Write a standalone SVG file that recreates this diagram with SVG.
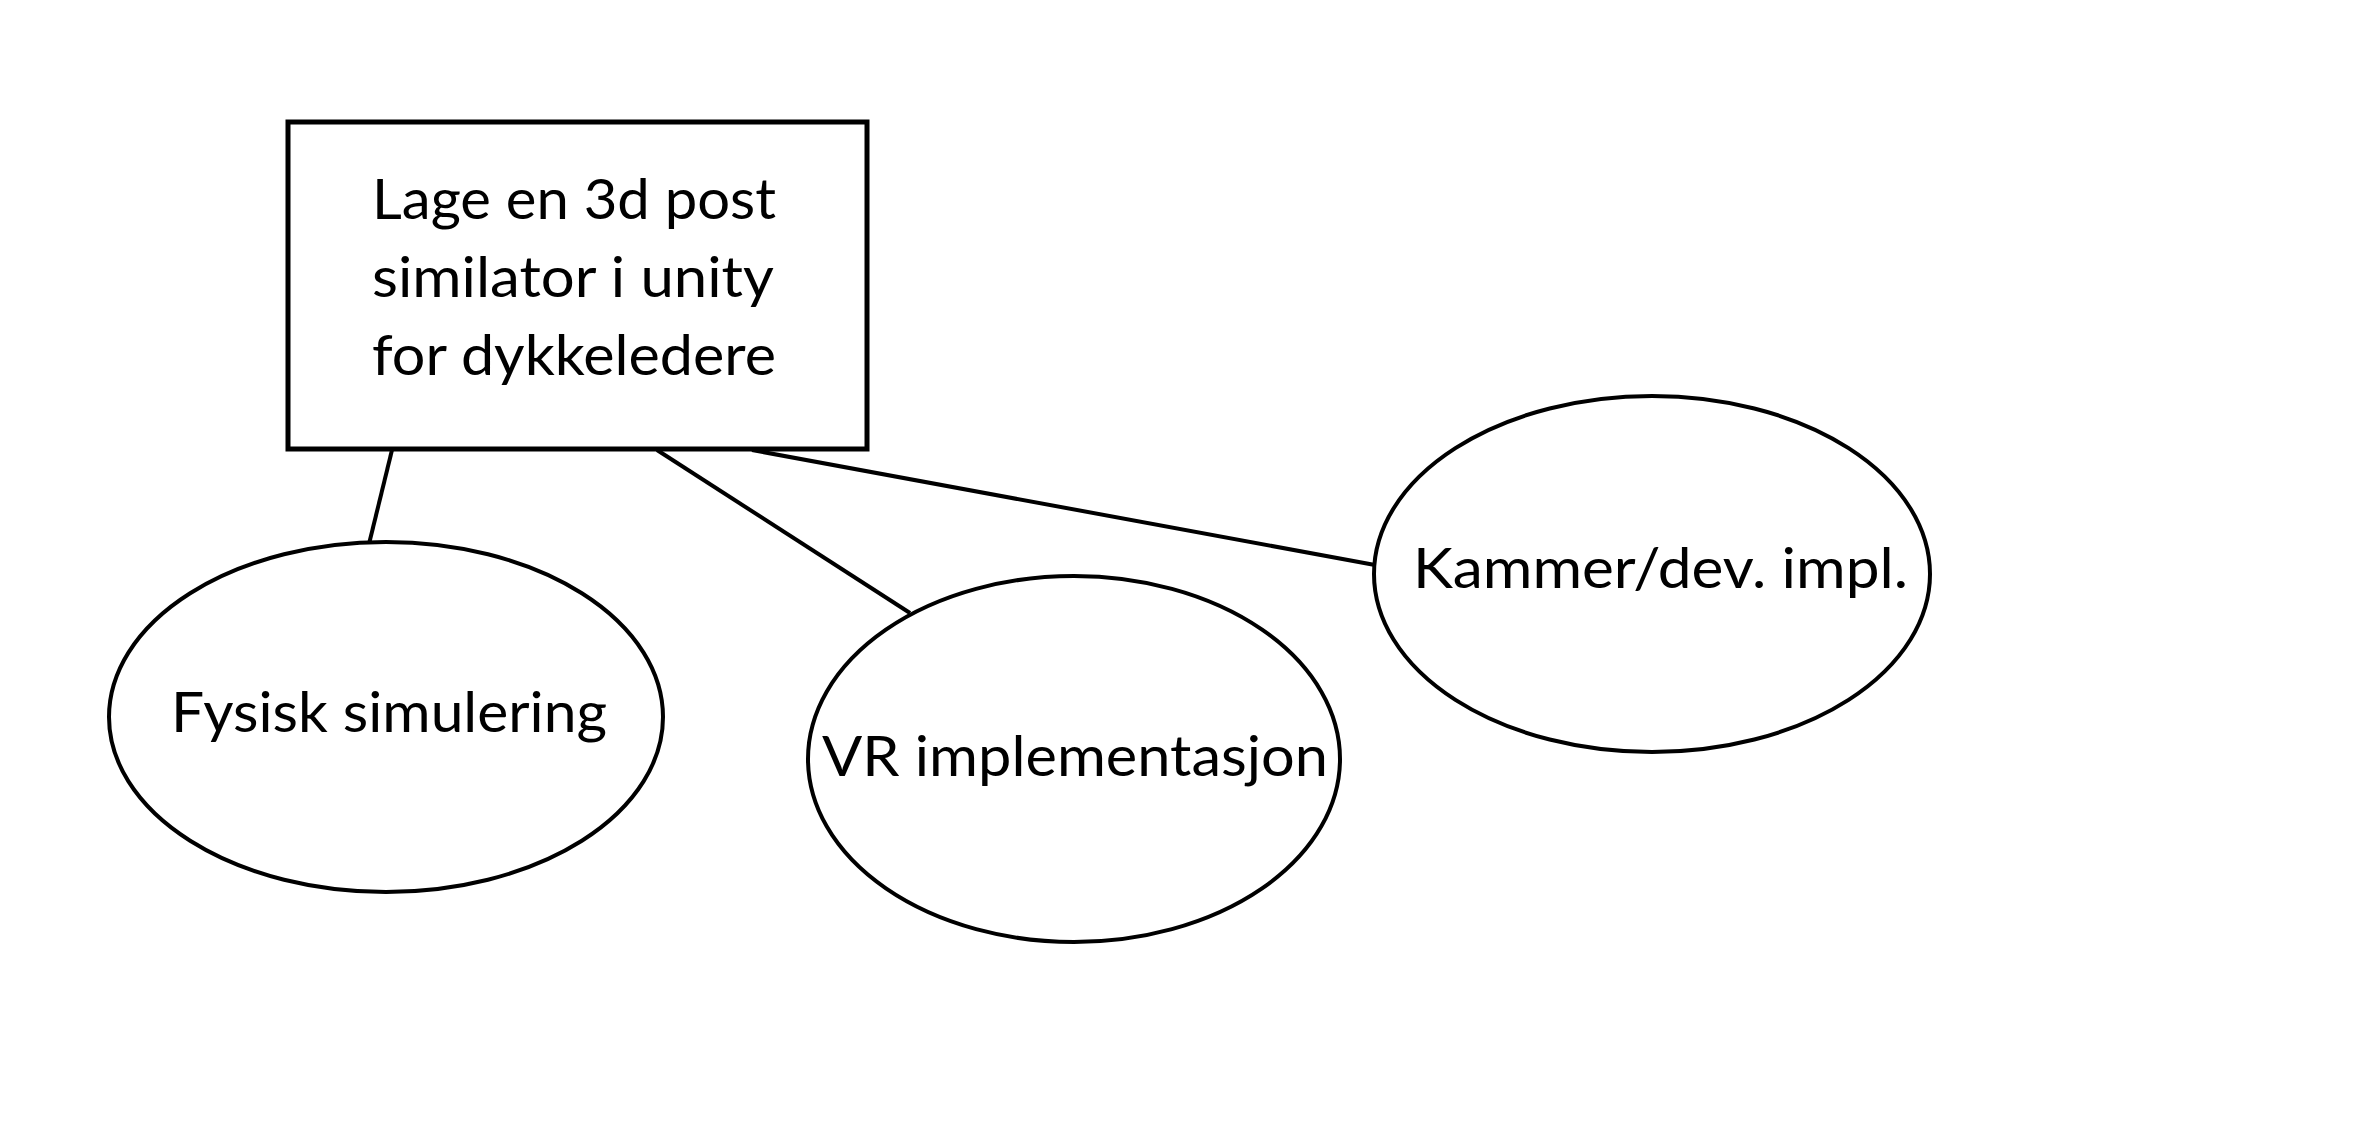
<svg xmlns="http://www.w3.org/2000/svg" width="2358" height="1136" viewBox="0 0 2358 1136">
<style>
.shape{fill:#ffffff;stroke:#000000;}
.box{stroke-width:5;}
.ell{stroke-width:4;}
.conn line{stroke:#000000;stroke-width:4;}
text{font-family:Lato,"Liberation Sans",sans-serif;font-size:57px;fill:#000000;}
</style>
<rect width="2358" height="1136" fill="#ffffff"/>
<g id="connectors" class="conn">
<line x1="392" y1="450" x2="369" y2="544"/>
<line x1="657" y1="450" x2="910" y2="613"/>
<line x1="752" y1="450" x2="1375" y2="565"/>
</g>
<g id="node-main">
<rect class="shape box" x="288" y="122" width="579" height="327"/>
<text x="372" y="219" textLength="404" lengthAdjust="spacingAndGlyphs">Lage en 3d post</text>
<text x="372" y="297" textLength="402" lengthAdjust="spacingAndGlyphs">similator i unity</text>
<text x="372" y="375" textLength="404" lengthAdjust="spacingAndGlyphs">for dykkeledere</text>
</g>
<g id="node-fysisk">
<ellipse class="shape ell" cx="386" cy="717" rx="277" ry="175"/>
<text x="171" y="732" textLength="436" lengthAdjust="spacingAndGlyphs">Fysisk simulering</text>
</g>
<g id="node-vr">
<ellipse class="shape ell" cx="1074" cy="759" rx="266" ry="183"/>
<text x="822" y="776" textLength="506" lengthAdjust="spacingAndGlyphs">VR implementasjon</text>
</g>
<g id="node-kammer">
<ellipse class="shape ell" cx="1652" cy="574" rx="278" ry="178"/>
<text x="1413" y="588" textLength="495" lengthAdjust="spacingAndGlyphs">Kammer/dev. impl.</text>
</g>
</svg>
